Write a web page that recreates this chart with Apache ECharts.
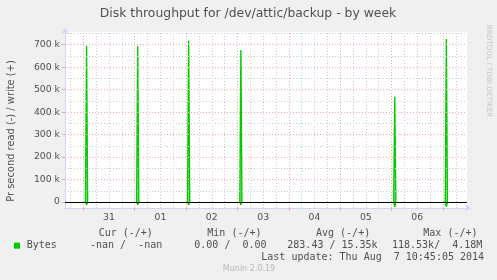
<!DOCTYPE html>
<html><head><meta charset="utf-8">
<script src="https://cdn.jsdelivr.net/npm/echarts@6/dist/echarts.min.js"></script>
<style>html,body{margin:0;padding:0;background:#f0f0f0}#c{width:497px;height:280px}</style>
</head><body><div id="c"></div>
<script>
// ---- data (hours measured from 31 Jul 00:00) ----
const dayLabels = ['31', '01', '02', '03', '04', '05', '06'];
const dayNoonHours = [12, 36, 60, 84, 108, 132, 156];
const midnightHours = [0, 24, 48, 72, 96, 120, 144, 168];
const sixHourGrid = [-6, 6, 12, 18, 30, 36, 42, 54, 60, 66, 78, 84, 90, 102, 108, 114, 126, 132, 138, 150, 156, 162, 174];
const yMajorTicks = [0, 100000, 200000, 300000, 400000, 500000, 600000, 700000];
const yMinorTicks = [50000, 150000, 250000, 350000, 450000, 550000, 650000, 750000];
const spikeHours = [1.5, 25.4, 49.2, 73.6, 145.5, 169.6];
const writePeaks = [695000, 693000, 717000, 676000, 468000, 725000];
const readPeaks = [12000, 12000, 12000, 12000, 22000, 22000];
const xRange = [-8.57, 179.25];
const yRange = [-26700, 756500];

const legendHeader = ['Cur (-/+)', 'Min (-/+)', 'Avg (-/+)', 'Max (-/+)'];
const legendValues = ['-nan /  -nan', '0.00 /  0.00', '283.43 / 15.35k', '118.53k/  4.18M'];
const lastUpdate = 'Last update: Thu Aug  7 10:45:05 2014';

// ---- build ----
function spikes(peaks, sign) {
  const d = [];
  spikeHours.forEach((h, i) => {
    d.push([h - 0.5, 0], [h, sign * peaks[i]], [h + 0.5, 0], [h + 0.5, '-']);
  });
  return d;
}
const MAJ = '#f2a8a8', MIN = '#cccccc';
const gridLines = [];
yMajorTicks.forEach(v => { if (v !== 0) gridLines.push({ yAxis: v, lineStyle: { color: MAJ, type: [1, 2], width: 1 } }); });
yMinorTicks.forEach(v => gridLines.push({ yAxis: v, lineStyle: { color: MIN, type: [1, 2], width: 1 } }));
midnightHours.forEach(v => gridLines.push({ xAxis: v, lineStyle: { color: MAJ, type: [1, 2], width: 1 } }));
sixHourGrid.forEach(v => gridLines.push({ xAxis: v, lineStyle: { color: MIN, type: [1, 2], width: 1 } }));
gridLines.push({ yAxis: 0, lineStyle: { color: '#000', type: 'solid', width: 1 } });

const FONT = 'DejaVu Sans';
const MONO = 'DejaVu Sans Mono';
const TXT = '#505050';
function t(x, y, text, o) {
  return Object.assign({ type: 'text', x: x, y: y, silent: true,
    style: Object.assign({ text: text, fill: TXT, font: '10px "' + MONO + '"', align: 'left', verticalAlign: 'middle' }, o || {}) });
}
const headerX = [98.7, 207.3, 316, 423.3];
const valueX = [90, 194.3, 287.3, 392];
const graphics = [
  t(248, 13.5, 'Disk throughput for /dev/attic/backup - by week', { font: '12.4px "' + FONT + '"', align: 'center' }),
  Object.assign(t(11, 131, 'Pr second read (-) / write (+)', { font: '9.9px "' + FONT + '"', align: 'center' }), { rotation: Math.PI / 2 }),
  Object.assign(t(489, 71, 'RRDTOOL / TOBI OETIKER', { font: '7.2px "' + FONT + '"', align: 'center', fill: '#c4c4c4' }), { rotation: -Math.PI / 2 }),
  { type: 'rect', shape: { x: 14, y: 242.7, width: 6, height: 6 }, style: { fill: '#00cc00' }, silent: true },
  t(26.7, 245.7, 'Bytes'),
  t(261.3, 257.7, lastUpdate),
  t(249, 268.7, 'Munin 2.0.19', { font: '8px "' + FONT + '"', align: 'center', fill: '#b8b8b8' })
];
legendHeader.forEach((s, i) => graphics.push(t(headerX[i], 233.3, s)));
legendValues.forEach((s, i) => graphics.push(t(valueX[i], 245.7, s)));

const chart = echarts.init(document.getElementById('c'), null, { renderer: 'canvas' });
chart.setOption({
  animation: false,
  backgroundColor: '#f0f0f0',
  grid: { left: 65, right: 30, top: 32, bottom: 72, show: true, backgroundColor: '#ffffff', borderWidth: 0, containLabel: false },
  xAxis: {
    type: 'value', min: xRange[0], max: xRange[1],
    axisLine: { show: true, onZero: false, lineStyle: { color: '#cfd6f8', width: 1 }, symbol: ['none', 'arrow'], symbolSize: [6, 6], symbolOffset: [0, 4] },
    axisTick: { show: true, customValues: midnightHours, length: 3, lineStyle: { color: MAJ } },
    axisLabel: { customValues: dayNoonHours, margin: 5, color: TXT, fontFamily: FONT, fontSize: 9.3,
      formatter: v => dayLabels[dayNoonHours.indexOf(Math.round(v))] || '' },
    splitLine: { show: false }
  },
  yAxis: {
    type: 'value', min: yRange[0], max: yRange[1],
    axisLine: { show: true, onZero: false, lineStyle: { color: '#cfd6f8', width: 1 }, symbol: ['none', 'arrow'], symbolSize: [6, 6], symbolOffset: [0, 4] },
    axisTick: { show: true, customValues: yMajorTicks, length: 3, lineStyle: { color: MAJ } },
    axisLabel: { customValues: yMajorTicks, margin: 5, color: TXT, fontFamily: FONT, fontSize: 9.3,
      formatter: v => v === 0 ? '0' : (v / 1000) + ' k' },
    splitLine: { show: false }
  },
  graphic: graphics,
  series: [
    { type: 'line', z: 1, data: [], silent: true,
      markLine: { silent: true, symbol: ['none', 'none'], label: { show: false }, emphasis: { disabled: true }, animation: false, data: gridLines } },
    { name: 'Bytes', type: 'line', z: 3, data: spikes(writePeaks, 1), showSymbol: false, connectNulls: false,
      lineStyle: { color: '#00cc00', width: 1.4 }, areaStyle: { color: 'rgba(0,204,0,0.6)', origin: 0 } },
    { name: 'Bytes', type: 'line', z: 3, data: spikes(readPeaks, -1), showSymbol: false, connectNulls: false,
      lineStyle: { color: '#00cc00', width: 1.4 }, areaStyle: { color: 'rgba(0,204,0,0.6)', origin: 0 } }
  ]
});
</script></body></html>
